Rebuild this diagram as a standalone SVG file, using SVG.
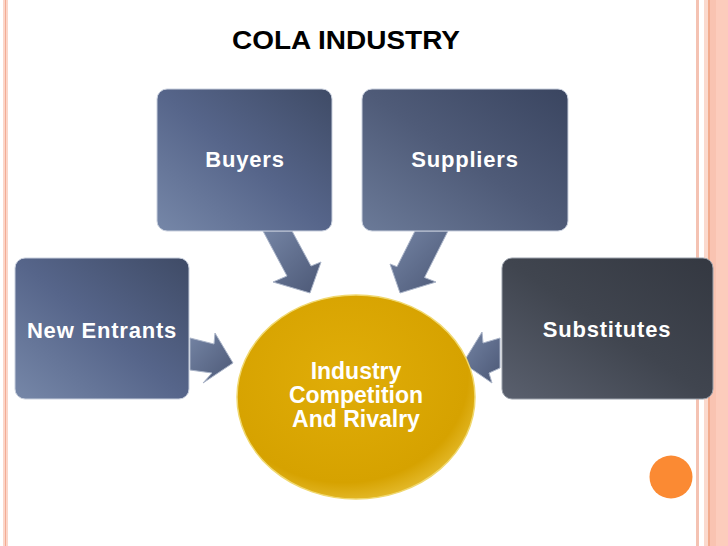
<svg xmlns="http://www.w3.org/2000/svg" width="728" height="546" viewBox="0 0 728 546">
<defs>
<linearGradient id="gBlue" x1="0" y1="1" x2="1" y2="0">
<stop offset="0" stop-color="#7687a8"/>
<stop offset="0.5" stop-color="#56658a"/>
<stop offset="1" stop-color="#3f4b66"/>
</linearGradient>
<linearGradient id="gSup" x1="0" y1="1" x2="1" y2="0">
<stop offset="0" stop-color="#6b7a98"/>
<stop offset="0.5" stop-color="#4f5b78"/>
<stop offset="1" stop-color="#3a4560"/>
</linearGradient>
<linearGradient id="gSub" x1="0" y1="1" x2="1" y2="0">
<stop offset="0" stop-color="#5a606e"/>
<stop offset="0.5" stop-color="#40454f"/>
<stop offset="1" stop-color="#343841"/>
</linearGradient>
<linearGradient id="gArrow" x1="0" y1="0" x2="1" y2="1">
<stop offset="0" stop-color="#7484a4"/>
<stop offset="1" stop-color="#4c5876"/>
</linearGradient>
<radialGradient id="gGold" cx="0.45" cy="0.4" r="0.65">
<stop offset="0" stop-color="#e0ad08"/>
<stop offset="0.8" stop-color="#d6a200"/>
<stop offset="1" stop-color="#e9c23a"/>
</radialGradient>
</defs>
<style>
.box{stroke:#c9d0de;stroke-width:1}
.lbl{font-family:"Liberation Sans",Arial,sans-serif;font-weight:bold;fill:#ffffff;text-anchor:middle}
.arr{fill:url(#gArrow);stroke:#aab4c8;stroke-width:1}
</style>
<rect width="728" height="546" fill="#ffffff"/>
<!-- borders -->
<g id="borders">
<rect x="3" y="0" width="5" height="546" fill="#fbd6c9"/>
<line x1="5.5" y1="0" x2="5.5" y2="546" stroke="#f3ab94" stroke-width="1"/>
<rect x="696" y="0" width="3" height="546" fill="#f4c2b2"/>
<rect x="704" y="0" width="24" height="546" fill="#fcccbc"/>
<rect x="704" y="0" width="4" height="546" fill="#fbd9cd"/>
<line x1="709" y1="0" x2="709" y2="546" stroke="#ec9670" stroke-width="1.2"/>
<rect x="710" y="0" width="6" height="546" fill="#f9c3b1"/>
</g>
<text x="346" y="49" class="lbl" style="fill:#000000;font-size:25px" textLength="228" lengthAdjust="spacingAndGlyphs">COLA INDUSTRY</text>
<g id="connectors">
<polygon class="arr" points="263,231 292,231 311,266 321,262 310,293 273,282 287,276"/>
<polygon class="arr" points="415,231 448,231 424.5,277.5 436,282 400,293 390,264 397,266.7"/>
<polygon class="arr" points="190,338 214,344 215,333 233,363 203,383 212,373 190,370"/>
<polygon class="arr" points="500,338 483,343 482,332 463,363 492,383 489,373 500,368"/>
</g>
<g id="center">
<ellipse cx="356" cy="397" rx="119" ry="102" fill="url(#gGold)" stroke="#f0d870" stroke-width="1.5"/>
<text class="lbl" style="font-size:23px" x="356" y="379">Industry</text>
<text class="lbl" style="font-size:23px" x="356" y="403">Competition</text>
<text class="lbl" style="font-size:23px" x="356" y="427">And Rivalry</text>
</g>
<g id="buyers">
<rect class="box" x="157" y="89" width="175" height="142" rx="10" fill="url(#gBlue)"/>
<text class="lbl" style="font-size:22px;letter-spacing:0.8px" x="245" y="167">Buyers</text>
</g>
<g id="suppliers">
<rect class="box" x="362" y="89" width="206" height="142" rx="10" fill="url(#gSup)"/>
<text class="lbl" style="font-size:22px;letter-spacing:0.8px" x="465" y="167">Suppliers</text>
</g>
<g id="new-entrants">
<rect class="box" x="15" y="258" width="174" height="141" rx="10" fill="url(#gBlue)"/>
<text class="lbl" style="font-size:22px;letter-spacing:0.8px" x="102" y="338">New Entrants</text>
</g>
<g id="substitutes">
<rect class="box" x="502" y="258" width="211" height="141" rx="10" fill="url(#gSub)" style="stroke:#9aa0aa"/>
<text class="lbl" style="font-size:22px;letter-spacing:0.8px" x="607" y="337">Substitutes</text>
</g>
<circle cx="671" cy="477" r="21.5" fill="#fb8a33"/>
</svg>
